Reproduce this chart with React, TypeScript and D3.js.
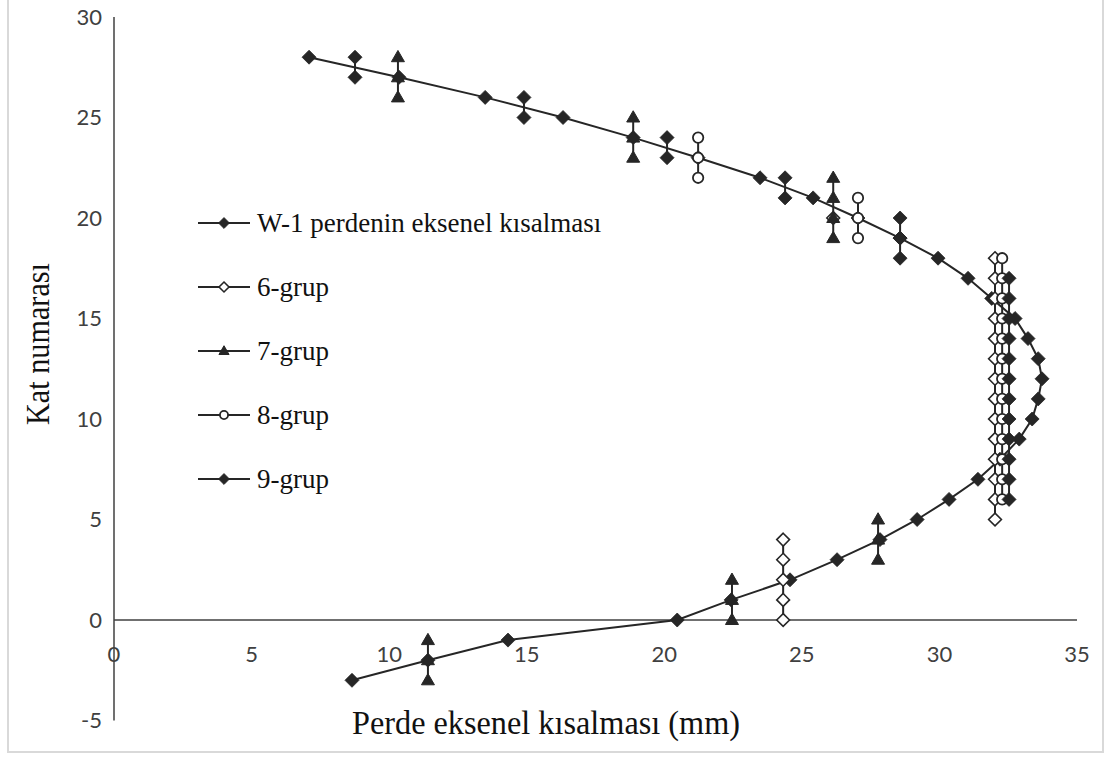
import React from "react";
import * as d3 from "d3";

// Floors of W-1 (top to bottom) and its axial shortening (mm)
const w1Floors = [28, 27, 26, 25, 24, 23, 22, 21, 20, 19, 18, 17, 16, 15, 14, 13, 12, 11, 10, 9, 8, 7, 6, 5, 4, 3, 2, 1, 0, -1, -2, -3];
const w1Values = [7.09, 10.36, 13.49, 16.32, 18.87, 21.23, 23.48, 25.41, 27.04, 28.57, 29.95, 31.04, 31.9, 32.75, 33.22, 33.59, 33.73, 33.59, 33.37, 32.9, 32.2, 31.4, 30.35, 29.19, 27.84, 26.28, 24.57, 22.43, 20.47, 14.32, 11.41, 8.65];

// Group series: each segment = one shortening value over several floors
const grup6 = [
  { value: 24.32, floors: [4, 3, 2, 1, 0] },
  { value: 32.02, floors: [18, 17, 16, 15, 14, 13, 12, 11, 10, 9, 8, 7, 6, 5] },
  { value: 26.14, floors: [20] },
];
const grup7 = [
  { value: 10.32, floors: [28, 27, 26] },
  { value: 18.87, floors: [25, 24, 23] },
  { value: 26.14, floors: [22, 21, 20, 19] },
  { value: 27.77, floors: [5, 4, 3] },
  { value: 22.46, floors: [2, 1, 0] },
  { value: 11.41, floors: [-1, -2, -3] },
];
const grup8 = [
  { value: 21.23, floors: [24, 23, 22] },
  { value: 27.04, floors: [21, 20, 19] },
  { value: 32.28, floors: [18, 17, 16, 15, 14, 13, 12, 11, 10, 9, 8, 7, 6] },
];
const grup9 = [
  { value: 8.76, floors: [28, 27] },
  { value: 14.9, floors: [26, 25] },
  { value: 20.1, floors: [24, 23] },
  { value: 24.39, floors: [22, 21] },
  { value: 28.57, floors: [20, 19, 18] },
  { value: 32.53, floors: [17, 16, 15, 14, 13, 12, 11, 10, 9, 8, 7, 6] },
];

const xTicks = [0, 5, 10, 15, 20, 25, 30, 35];
const yTicks = [-5, 0, 5, 10, 15, 20, 25, 30];
const legendLabels = ["W-1 perdenin eksenel kısalması", "6-grup", "7-grup", "8-grup", "9-grup"];
const xTitle = "Perde eksenel kısalması (mm)";
const yTitle = "Kat numarası";

const DARK = "#262626";

const diamond = (cx: number, cy: number, h: number) =>
  `M${cx},${cy - h}L${cx + h},${cy}L${cx},${cy + h}L${cx - h},${cy}Z`;
const triangle = (cx: number, cy: number, s: number) => {
  const hgt = (s * Math.sqrt(3)) / 2;
  return `M${cx},${cy - hgt * 0.6}L${cx + s / 2},${cy + hgt * 0.4}L${cx - s / 2},${cy + hgt * 0.4}Z`;
};

type Kind = "fdiamond" | "odiamond" | "triangle" | "circle";

function Marker({ kind, cx, cy, scale = 1 }: { kind: Kind; cx: number; cy: number; scale?: number }) {
  if (kind === "fdiamond") return <path d={diamond(cx, cy, 7 * scale)} fill={DARK} stroke={DARK} strokeWidth={0.8} />;
  if (kind === "odiamond") return <path d={diamond(cx, cy, 6.4 * scale)} fill="#fff" stroke={DARK} strokeWidth={1.6} />;
  if (kind === "triangle") return <path d={triangle(cx, cy, 13 * scale)} fill={DARK} stroke={DARK} strokeWidth={1} />;
  return <circle cx={cx} cy={cy} r={5.2 * scale} fill="#fff" stroke={DARK} strokeWidth={1.8} />;
}

export default function App() {
  const x = d3.scaleLinear().domain([0, 35]).range([114, 1077]);
  const y = d3.scaleLinear().domain([-5, 30]).range([720.5, 17]);

  const line = d3
    .line<number>()
    .x((_, i) => x(w1Values[i]))
    .y((f) => y(f));

  const groupSeries: { data: typeof grup6; kind: Kind }[] = [
    { data: grup6, kind: "odiamond" },
    { data: grup7, kind: "triangle" },
    { data: grup8, kind: "circle" },
    { data: grup9, kind: "fdiamond" },
  ];

  const legendKinds: Kind[] = ["fdiamond", "odiamond", "triangle", "circle", "fdiamond"];

  return (
    <svg
      width={1115}
      height={760}
      style={{ position: "absolute", left: 0, top: 0, background: "#fff" }}
    >
      <rect x={8} y={-3} width={1095} height={755} fill="#fff" stroke="#d9d9d9" strokeWidth={2} />

      {/* axes */}
      <line x1={x(0)} x2={x(0)} y1={y(30)} y2={y(-5)} stroke="#404040" strokeWidth={1.5} />
      <line x1={x(0)} x2={x(35)} y1={y(0)} y2={y(0)} stroke="#404040" strokeWidth={1.5} />

      {xTicks.map((t) => (
        <text key={"x" + t} x={x(t)} y={662} textAnchor="middle" fontFamily="Lato" fontSize={22} fill="#404040">
          {t}
        </text>
      ))}
      {yTicks.map((t) => (
        <text key={"y" + t} x={102} y={y(t)} dy="0.36em" textAnchor="end" fontFamily="Lato" fontSize={22} fill="#404040">
          {t}
        </text>
      ))}

      <text
        x={546}
        y={734}
        textAnchor="middle"
        fontFamily="Liberation Serif"
        fontSize={33}
        fill="#111"
        textLength={388}
        lengthAdjust="spacingAndGlyphs"
      >
        {xTitle}
      </text>
      <text
        transform={`translate(49,344) rotate(-90)`}
        textAnchor="middle"
        fontFamily="Liberation Serif"
        fontSize={34}
        fill="#111"
        textLength={162}
        lengthAdjust="spacingAndGlyphs"
      >
        {yTitle}
      </text>

      {/* W-1 series */}
      <path d={line(w1Floors) || ""} fill="none" stroke={DARK} strokeWidth={2} />
      {w1Floors.map((f, i) => (
        <Marker key={"w" + i} kind="fdiamond" cx={x(w1Values[i])} cy={y(f)} />
      ))}

      {/* group series */}
      {groupSeries.map((s, si) => (
        <g key={"s" + si}>
          {s.data.map((seg, gi) => (
            <g key={gi}>
              {seg.floors.length > 1 && (
                <line
                  x1={x(seg.value)}
                  x2={x(seg.value)}
                  y1={y(d3.max(seg.floors)!)}
                  y2={y(d3.min(seg.floors)!)}
                  stroke={DARK}
                  strokeWidth={2}
                />
              )}
              {seg.floors.map((f) => (
                <Marker key={f} kind={s.kind} cx={x(seg.value)} cy={y(f)} />
              ))}
            </g>
          ))}
        </g>
      ))}

      {/* legend */}
      {legendLabels.map((lab, i) => {
        const ly = 223 + i * 64;
        return (
          <g key={"l" + i}>
            <line x1={198} x2={250} y1={ly} y2={ly} stroke={DARK} strokeWidth={2} />
            <Marker kind={legendKinds[i]} cx={224} cy={ly} scale={0.78} />
            <text x={257} y={ly} dy="0.34em" fontFamily="Liberation Serif" fontSize={27} fill="#111">
              {lab}
            </text>
          </g>
        );
      })}
    </svg>
  );
}
